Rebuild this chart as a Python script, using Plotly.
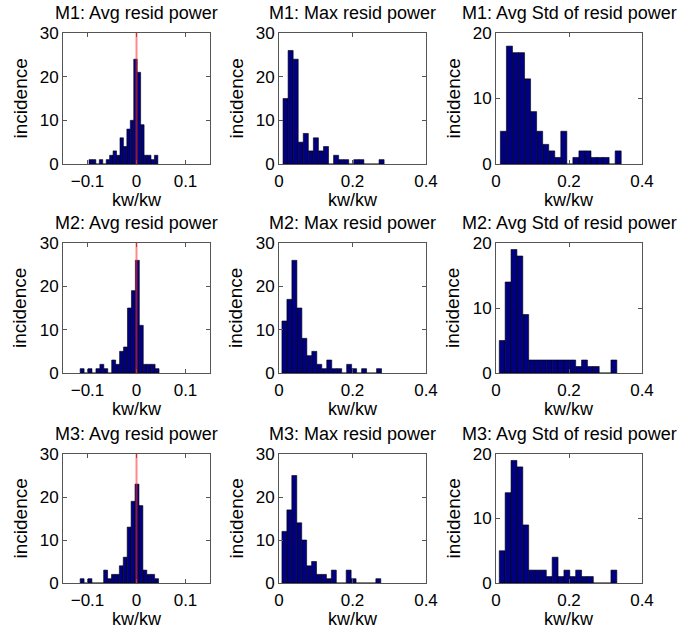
import plotly.graph_objects as go

# histogram data: bin range (lo, hi) and counts of 20 equal bins per panel
titles = [
    "M1: Avg resid power", "M1: Max resid power", "M1: Avg Std of resid power",
    "M2: Avg resid power", "M2: Max resid power", "M2: Avg Std of resid power",
    "M3: Avg resid power", "M3: Max resid power", "M3: Avg Std of resid power",
]

m1_avg_range = (-0.097, 0.0436)
m1_avg_counts = [1, 1, 0, 1, 0, 1, 2, 3, 2, 6, 4, 8, 10, 24, 21, 9, 2, 2, 1, 2]
m1_max_range = (0.011, 0.286)
m1_max_counts = [15, 26, 24, 5, 7, 3, 6, 3, 4, 0, 2, 1, 1, 0, 1, 1, 0, 0, 0, 1]
m1_std_range = (0.012, 0.343)
m1_std_counts = [5, 18, 17, 17, 13, 8, 5, 3, 2, 1, 5, 0, 1, 2, 2, 1, 1, 1, 0, 2]

m2_avg_range = (-0.115, 0.046)
m2_avg_counts = [1, 0, 1, 0, 1, 2, 1, 0, 3, 2, 5, 6, 15, 19, 26, 11, 2, 2, 2, 1]
m2_max_range = (0.008, 0.279)
m2_max_counts = [12, 17, 26, 15, 8, 4, 5, 2, 1, 3, 1, 1, 0, 2, 1, 0, 1, 0, 0, 1]
m2_std_range = (0.009, 0.331)
m2_std_counts = [5, 14, 19, 18, 9, 2, 2, 2, 2, 2, 2, 2, 2, 1, 2, 1, 1, 0, 0, 2]

m3_avg_range = (-0.115, 0.045)
m3_avg_counts = [1, 0, 1, 0, 0, 0, 3, 1, 2, 2, 4, 6, 13, 19, 23, 18, 3, 2, 2, 1]
m3_max_range = (0.008, 0.277)
m3_max_counts = [12, 17, 25, 14, 10, 4, 5, 2, 2, 1, 3, 0, 0, 3, 1, 0, 0, 0, 0, 1]
m3_std_range = (0.009, 0.331)
m3_std_counts = [5, 14, 19, 18, 9, 2, 2, 2, 1, 4, 1, 2, 1, 2, 1, 1, 0, 0, 0, 2]

ranges = [m1_avg_range, m1_max_range, m1_std_range,
          m2_avg_range, m2_max_range, m2_std_range,
          m3_avg_range, m3_max_range, m3_std_range]
counts = [m1_avg_counts, m1_max_counts, m1_std_counts,
          m2_avg_counts, m2_max_counts, m2_std_counts,
          m3_avg_counts, m3_max_counts, m3_std_counts]

x_ranges = [[-0.15, 0.15], [0, 0.4], [0, 0.4]]
x_ticks = [[-0.1, 0, 0.1], [0, 0.2, 0.4], [0, 0.2, 0.4]]
y_maxes = [30, 30, 20]
y_ticks = [[0, 10, 20, 30], [0, 10, 20, 30], [0, 10, 20]]

W, H = 680, 632
col_px = [(63, 210), (279, 426), (496, 642)]
row_px = [(33, 164), (243, 373), (454, 583)]

FONT = "Liberation Sans, Arial, sans-serif"
AX_COLOR = "#555555"

fig = go.Figure()
layout = dict(
    width=W, height=H,
    margin=dict(l=0, r=0, t=0, b=0, autoexpand=False),
    paper_bgcolor="white", plot_bgcolor="white",
    showlegend=False,
    font=dict(family=FONT, color="black"),
    annotations=[], shapes=[],
)


def ann(text, x, y, size, angle=0):
    return dict(text=text, xref="paper", yref="paper", x=x / W, y=1 - y / H,
                xanchor="center", yanchor="middle", showarrow=False, textangle=angle,
                font=dict(size=size, family=FONT, color="black"))


for k in range(9):
    r, c = divmod(k, 3)
    n = k + 1
    xa = "x" if n == 1 else f"x{n}"
    ya = "y" if n == 1 else f"y{n}"
    lo, hi = ranges[k]
    cnt = counts[k]
    w = (hi - lo) / len(cnt)
    centers = [lo + (i + 0.5) * w for i in range(len(cnt))]
    fig.add_trace(go.Bar(
        x=centers, y=cnt, width=w, xaxis=xa, yaxis=ya,
        marker=dict(color="#000080", line=dict(color="black", width=0.6)),
    ))
    x0, x1 = col_px[c]
    y0, y1 = row_px[r]
    common = dict(
        showline=True, linecolor=AX_COLOR, linewidth=1, mirror="ticks",
        ticks="inside", ticklen=4, tickcolor=AX_COLOR, showgrid=False,
        zeroline=False, automargin=False,
        tickfont=dict(size=17, family=FONT, color="black"),
    )
    layout[f"xaxis{'' if n == 1 else n}"] = dict(
        common, domain=[x0 / W, x1 / W], anchor=ya, range=x_ranges[c],
        tickvals=x_ticks[c], ticktext=[f"{v:g}".replace("-", "\u2212") for v in x_ticks[c]],
        ticklabelstandoff=2,
    )
    layout[f"yaxis{'' if n == 1 else n}"] = dict(
        common, domain=[1 - y1 / H, 1 - y0 / H], anchor=xa, range=[0, y_maxes[c]],
        tickvals=y_ticks[c],
    )
    layout["annotations"].append(ann(titles[k], (x0 + x1) / 2, y0 - 20, 18))
    layout["annotations"].append(ann("kw/kw", (x0 + x1) / 2, y1 + 36, 18))
    layout["annotations"].append(ann("incidence", x0 - 43, (y0 + y1) / 2, 19, -90))
    if c == 0:
        layout["shapes"].append(dict(
            type="line", xref=xa, yref=ya, x0=0, x1=0, y0=0, y1=y_maxes[c],
            line=dict(color="rgba(255,40,40,0.55)", width=2), layer="above",
        ))

fig.update_layout(**layout)
# drop the page's default body margin so the figure sits at the window origin
fig.write_html("out.html", config={"displayModeBar": False},
               post_script="document.body.style.margin='0';")
